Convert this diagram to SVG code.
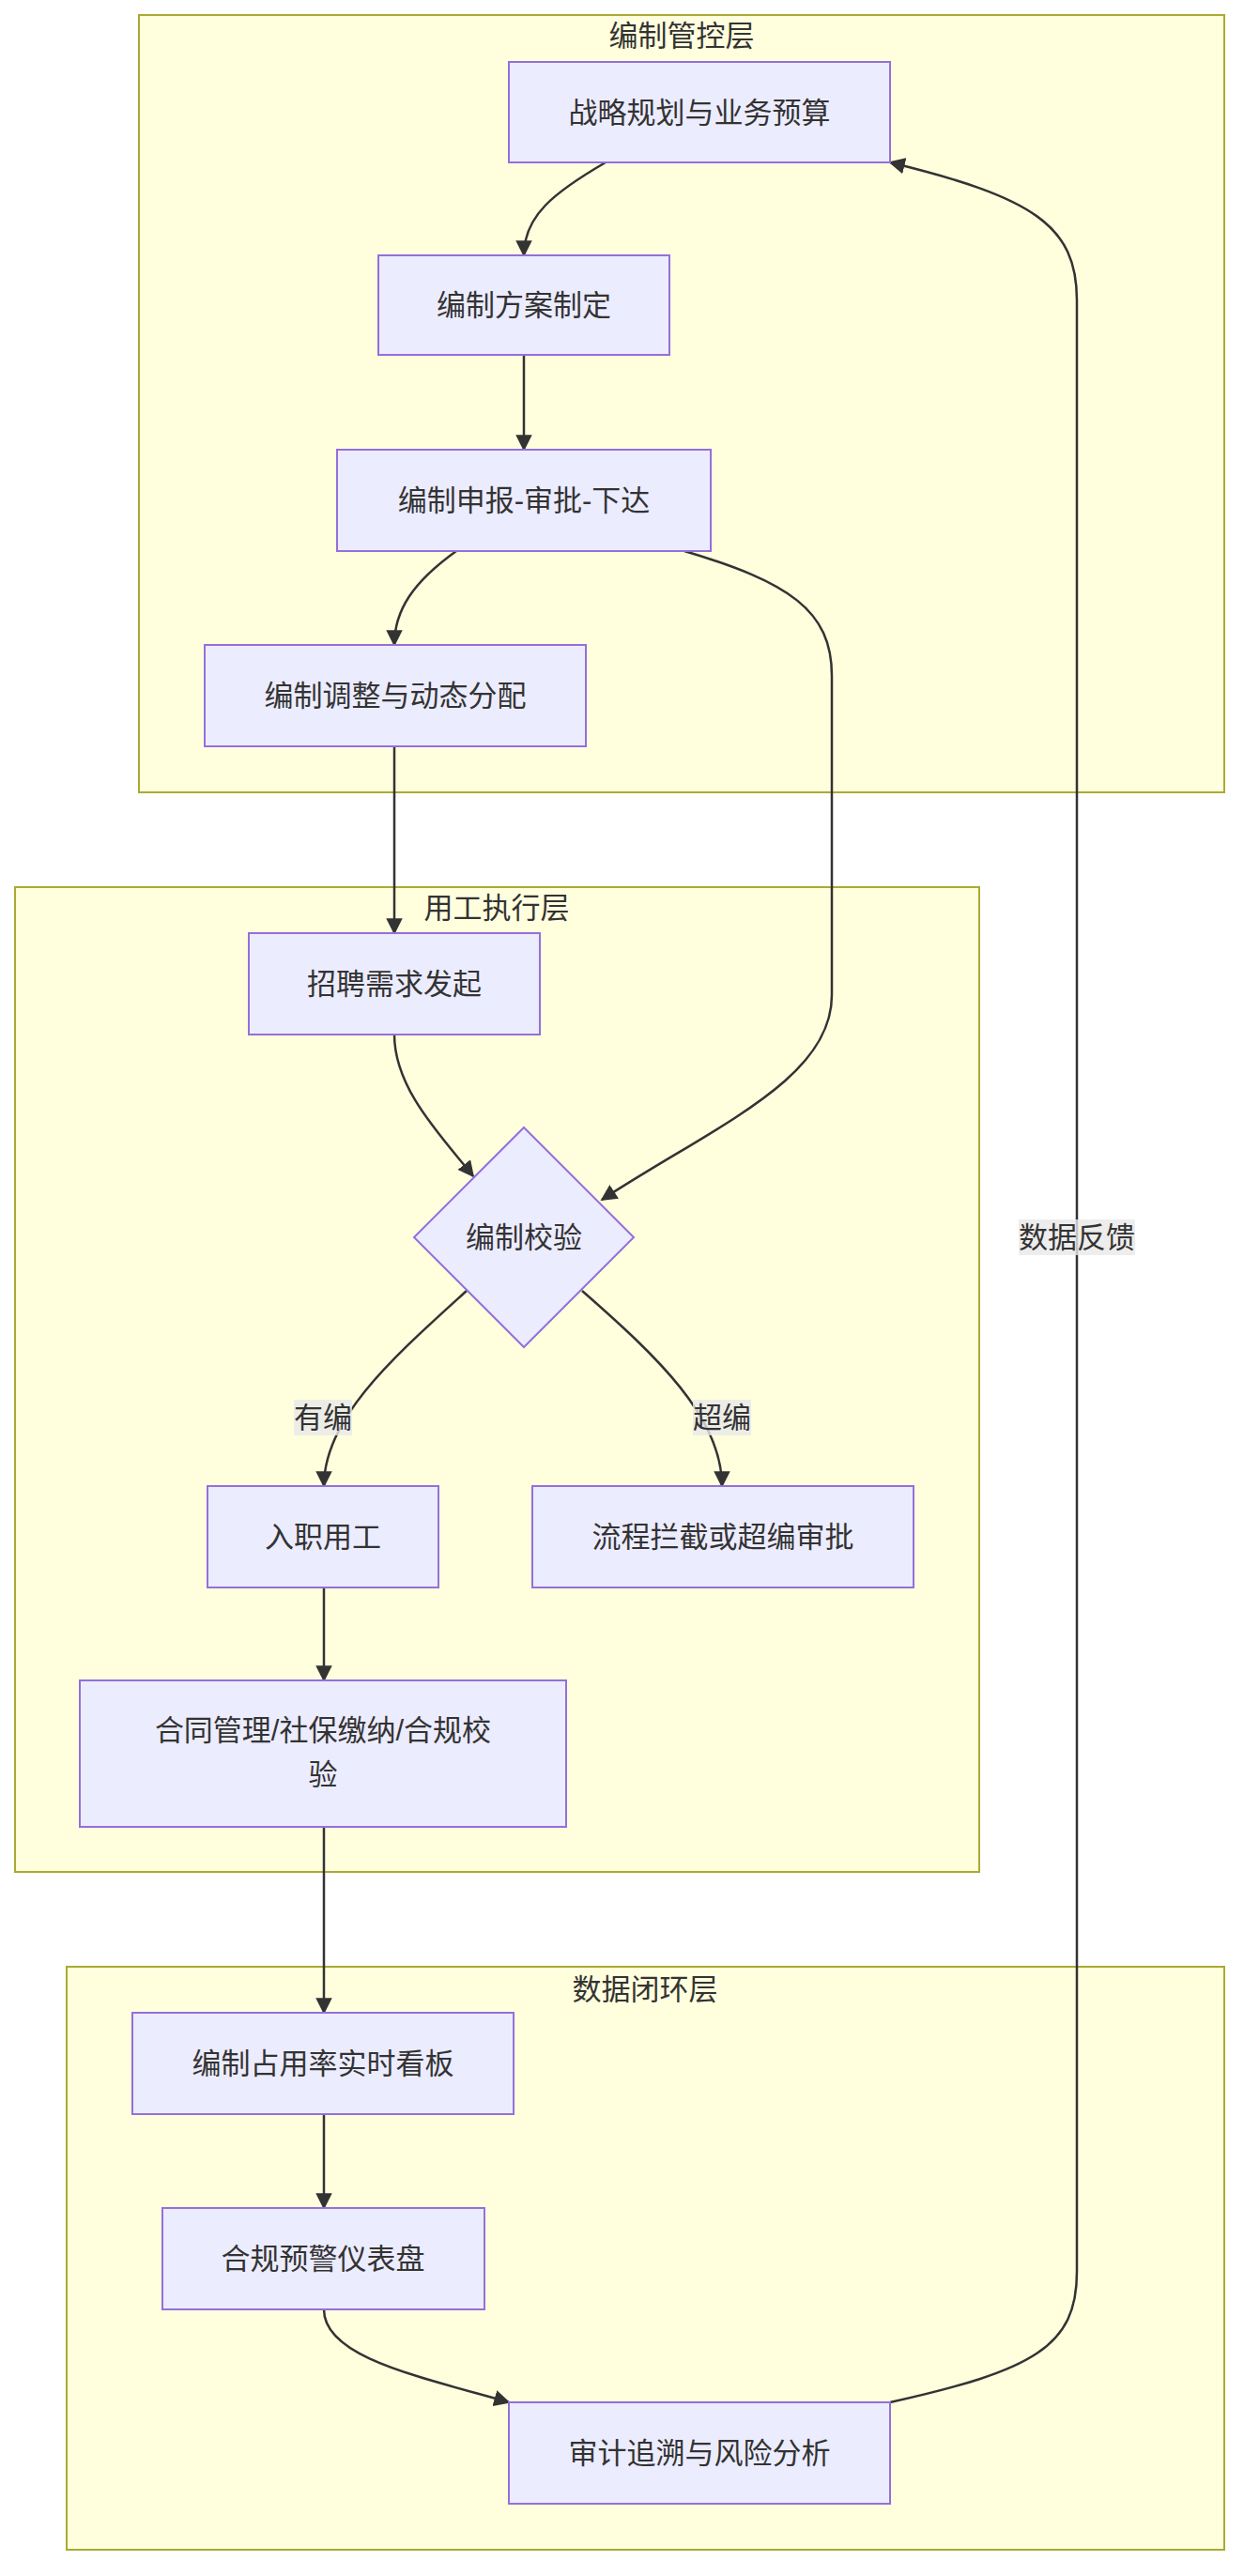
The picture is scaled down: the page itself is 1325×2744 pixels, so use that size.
<svg xmlns="http://www.w3.org/2000/svg" width="1325" height="2744" viewBox="0 0 1325 2744">
<style>
.cl{fill:#FFFFDE;stroke:#AAAA33;stroke-width:2}
.n{fill:#ECECFF;stroke:#9370DB;stroke-width:2}
text{font-family:"Liberation Sans","Noto Sans CJK SC",sans-serif;font-size:31px;fill:#333;text-anchor:middle;dominant-baseline:central}
.e{fill:none;stroke:#333;stroke-width:2.5;marker-end:url(#ar)}
.lb{fill:#E8E8E8;opacity:0.8}
</style>
<defs><marker id="ar" viewBox="0 0 10 10" refX="9" refY="5" markerWidth="7" markerHeight="7" orient="auto"><path d="M0,0L10,5L0,10z" fill="#333"/></marker></defs>
<g id="clusters">
<rect class="cl" x="148" y="16" width="1156" height="828"/><text x="726" y="38">编制管控层</text>
<rect class="cl" x="16" y="945" width="1027" height="1049"/><text x="529" y="967">用工执行层</text>
<rect class="cl" x="71" y="2095" width="1233" height="621"/><text x="687" y="2119">数据闭环层</text>
</g>
<g id="edges">
<path class="e" d="M645,173C590,205 558,230 558,272"/>
<path class="e" d="M558,378V479"/>
<path class="e" d="M486,587C440,620 420,650 420,687"/>
<path class="e" d="M729,587C840,620 886,650 886,720V1060C886,1150 760,1200 641,1278"/>
<path class="e" d="M420,795V994"/>
<path class="e" d="M420,1102C420,1160 470,1210 504,1253"/>
<path class="e" d="M497,1375C420,1445 345,1510 345,1583"/>
<path class="e" d="M620,1375C700,1445 769,1510 769,1583"/>
<path class="e" d="M345,1691V1790"/>
<path class="e" d="M345,1946V2144"/>
<path class="e" d="M345,2252V2352"/>
<path class="e" d="M345,2460C345,2510 440,2530 542,2559"/>
<path class="e" d="M948,2559C1100,2525 1147,2500 1147,2420V320C1147,240 1100,210 948,173"/>
<rect class="lb" x="313" y="1491" width="62" height="38"/><text x="344" y="1510">有编</text>
<rect class="lb" x="738" y="1491" width="62" height="38"/><text x="769" y="1510">超编</text>
<rect class="lb" x="1085" y="1299" width="124" height="38"/><text x="1147" y="1318">数据反馈</text>
</g>
<g id="A"><rect class="n" x="542" y="66" width="406" height="107"/><text x="745" y="120">战略规划与业务预算</text></g>
<g id="B"><rect class="n" x="403" y="272" width="310" height="106"/><text x="558" y="325">编制方案制定</text></g>
<g id="C"><rect class="n" x="359" y="479" width="398" height="108"/><text x="558" y="533">编制申报-审批-下达</text></g>
<g id="D"><rect class="n" x="218" y="687" width="406" height="108"/><text x="421" y="741">编制调整与动态分配</text></g>
<g id="E"><rect class="n" x="265" y="994" width="310" height="108"/><text x="420" y="1048">招聘需求发起</text></g>
<g id="F"><path class="n" d="M558,1201L675,1318L558,1435L441,1318Z"/><text x="558" y="1318">编制校验</text></g>
<g id="G"><rect class="n" x="221" y="1583" width="246" height="108"/><text x="344" y="1637">入职用工</text></g>
<g id="H"><rect class="n" x="567" y="1583" width="406" height="108"/><text x="770" y="1637">流程拦截或超编审批</text></g>
<g id="I"><rect class="n" x="85" y="1790" width="518" height="156"/><text x="344" y="1843">合同管理/社保缴纳/合规校</text><text x="344" y="1890">验</text></g>
<g id="J"><rect class="n" x="141" y="2144" width="406" height="108"/><text x="344" y="2198">编制占用率实时看板</text></g>
<g id="K"><rect class="n" x="173" y="2352" width="343" height="108"/><text x="344" y="2406">合规预警仪表盘</text></g>
<g id="L"><rect class="n" x="542" y="2559" width="406" height="108"/><text x="745" y="2613">审计追溯与风险分析</text></g>
</svg>
